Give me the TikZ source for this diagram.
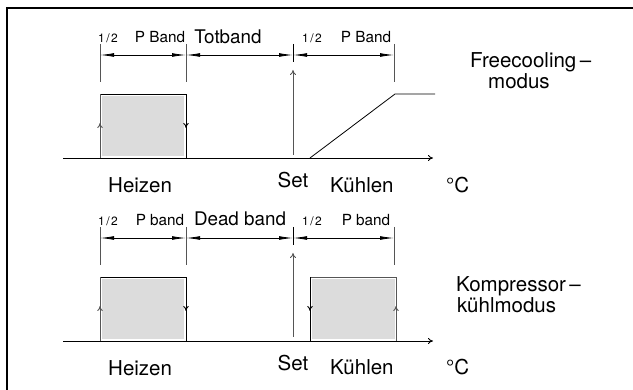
\documentclass[tikz,border=0pt]{standalone}
\usepackage{fontspec}
\setmainfont{TeX Gyre Heros}
\usetikzlibrary{arrows.meta}
\definecolor{boxgray}{HTML}{DCDCDC}
\definecolor{linegray}{HTML}{555555}
\tikzset{
  frameline/.style={line width=1.6pt, black},
  tickline/.style={line width=0.9pt, linegray},
  dimline/.style={line width=0.8pt, black, {Latex[length=14pt,width=3.8pt]}-{Latex[length=14pt,width=3.8pt]}},
  axisline/.style={line width=0.9pt, black, -{To[length=5pt,width=6pt]}},
  setline/.style={line width=0.9pt, linegray, -{To[length=5pt,width=6pt]}},
  lblbig/.style={inner sep=0pt, font=\fontsize{20.5}{24}\selectfont},
  lblmid/.style={inner sep=0pt, font=\fontsize{18.8}{22}\selectfont},
  lblp/.style={inner sep=0pt, font=\fontsize{15.3}{18}\selectfont},
  lblhalf/.style={inner sep=0pt, font=\fontsize{12}{14}\selectfont},
  midarrow/.style={line width=0.9pt, -{To[length=5pt,width=5.5pt]}},
}
\begin{document}
\begin{tikzpicture}[x=1pt,y=-1pt]
\useasboundingbox (0,0) rectangle (633,390);
% frame
\coordinate (fTL) at (7,8);
\coordinate (fBL) at (7,390);
\coordinate (fTR) at (633,8);
\draw[frameline] (fBL) -- (fTL) -- (fTR);

% ================= TOP PANEL =================
\coordinate (aA1) at (100,44); \coordinate (aA2) at (100,82);
\coordinate (aB1) at (186,44); \coordinate (aB2) at (186,82);
\coordinate (aC1) at (293,44); \coordinate (aC2) at (293,62);
\coordinate (aD1) at (394,44); \coordinate (aD2) at (394,82);
\draw[tickline] (aA1) -- (aA2);
\draw[tickline] (aB1) -- (aB2);
\draw[line width=0.9pt] (aC1) -- (aC2);
\draw[tickline] (aD1) -- (aD2);
\coordinate (adA) at (100,55); \coordinate (adB) at (186,55);
\coordinate (adC) at (293,55); \coordinate (adD) at (394,55);
\draw[dimline] (adA) -- (adB);
\draw[dimline] (adB) -- (adC);
\draw[dimline] (adC) -- (adD);
% heizen box
\coordinate (ahBL) at (100,158); \coordinate (ahTL) at (100,94);
\coordinate (ahTR) at (186,94); \coordinate (ahBR) at (186,158);
\fill[boxgray] (101.5,96) rectangle (184,156);
\draw[line width=0.9pt] (ahTL) -- (ahTR) -- (ahBR);
\draw[line width=0.9pt, linegray] (ahBL) -- (ahTL);
\coordinate (ahLm) at (100,123); \coordinate (ahRm) at (186,128);
\draw[midarrow, linegray] (100,132) -- (ahLm);
\draw[midarrow] (186,118) -- (ahRm);
% axis
\coordinate (aX0) at (63,158); \coordinate (aX1) at (433,158);
\draw[axisline] (aX0) -- (aX1);
% set arrow
\coordinate (aS0) at (293,155); \coordinate (aS1) at (293,70);
\draw[setline] (aS0) -- (aS1);
% ramp
\coordinate (aR0) at (310,158); \coordinate (aR1) at (395,94); \coordinate (aR2) at (435,94);
\draw[line width=0.8pt] (aR0) -- (aR1) -- (aR2);
% labels
\node[lblhalf, anchor=base] (ah1) at (108,43) {1\kern1.5pt/\kern1.5pt2};
\node[lblp, anchor=base] (ap1) at (160,43) {P Band};
\node[lblmid, anchor=base] (atot) at (228,44) {Totband};
\node[lblhalf, anchor=base] (ah2) at (312,43) {1\kern1.5pt/\kern1.5pt2};
\node[lblp, anchor=base] (ap2) at (366,43) {P Band};
\node[lblbig, anchor=base west] (afc) at (470,68) {Freecooling\,–};
\node[lblbig, anchor=base west] (amod) at (488,89) {modus};
\node[lblbig, anchor=base west] (ahz) at (108,193) {Heizen};
\node[lblbig, anchor=base] (aset) at (293,188) {Set};
\node[lblbig, anchor=base west] (akh) at (330,193) {Kühlen};
\node[lblbig, anchor=base west] (adeg) at (446,193) {°C};

% ================= BOTTOM PANEL =================
\coordinate (bA1) at (100,227); \coordinate (bA2) at (100,265);
\coordinate (bB1) at (186,227); \coordinate (bB2) at (186,265);
\coordinate (bC1) at (293,227); \coordinate (bC2) at (293,245);
\coordinate (bD1) at (394,227); \coordinate (bD2) at (394,265);
\draw[tickline] (bA1) -- (bA2);
\draw[tickline] (bB1) -- (bB2);
\draw[line width=0.9pt] (bC1) -- (bC2);
\draw[tickline] (bD1) -- (bD2);
\coordinate (bdA) at (100,238); \coordinate (bdB) at (186,238);
\coordinate (bdC) at (293,238); \coordinate (bdD) at (394,238);
\draw[dimline] (bdA) -- (bdB);
\draw[dimline] (bdB) -- (bdC);
\draw[dimline] (bdC) -- (bdD);
% heizen box
\coordinate (bhBL) at (100,341); \coordinate (bhTL) at (100,277);
\coordinate (bhTR) at (186,277); \coordinate (bhBR) at (186,341);
\fill[boxgray] (101.5,279) rectangle (184,339);
\draw[line width=0.9pt] (bhTL) -- (bhTR) -- (bhBR);
\draw[line width=0.9pt, linegray] (bhBL) -- (bhTL);
\coordinate (bhLm) at (100,306); \coordinate (bhRm) at (186,311);
\draw[midarrow, linegray] (100,315) -- (bhLm);
\draw[midarrow] (186,301) -- (bhRm);
% kuehlen box
\coordinate (bkBL) at (310,341); \coordinate (bkTL) at (310,277);
\coordinate (bkTR) at (396,277); \coordinate (bkBR) at (396,341);
\fill[boxgray] (311.5,279) rectangle (394.5,339);
\draw[line width=0.9pt, linegray] (bkTL) -- (bkTR);
\draw[line width=0.9pt] (bkBL) -- (bkTL);
\draw[line width=0.9pt, linegray] (bkBR) -- (bkTR);
\coordinate (bkLm) at (310,311); \coordinate (bkRm) at (396,306);
\draw[midarrow] (310,301) -- (bkLm);
\draw[midarrow, linegray] (396,315) -- (bkRm);
% axis
\coordinate (bX0) at (63,341); \coordinate (bX1) at (433,341);
\draw[axisline] (bX0) -- (bX1);
% set arrow
\coordinate (bS0) at (293,337); \coordinate (bS1) at (293,253);
\draw[setline] (bS0) -- (bS1);
% labels
\node[lblhalf, anchor=base] (bh1) at (108,226) {1\kern1.5pt/\kern1.5pt2};
\node[lblp, anchor=base] (bp1) at (160,226) {P band};
\node[lblmid, anchor=base] (bdead) at (240,226) {Dead band};
\node[lblhalf, anchor=base] (bh2) at (312,226) {1\kern1.5pt/\kern1.5pt2};
\node[lblp, anchor=base] (bp2) at (366,226) {P band};
\node[lblbig, anchor=base west] (bko) at (456,292) {Kompressor\,–};
\node[lblbig, anchor=base west] (bkm) at (457,313) {kühlmodus};
\node[lblbig, anchor=base west] (bhz) at (108,376) {Heizen};
\node[lblbig, anchor=base] (bset) at (293,371) {Set};
\node[lblbig, anchor=base west] (bkh) at (330,375) {Kühlen};
\node[lblbig, anchor=base west] (bdeg) at (446,375) {°C};
\end{tikzpicture}
\end{document}
